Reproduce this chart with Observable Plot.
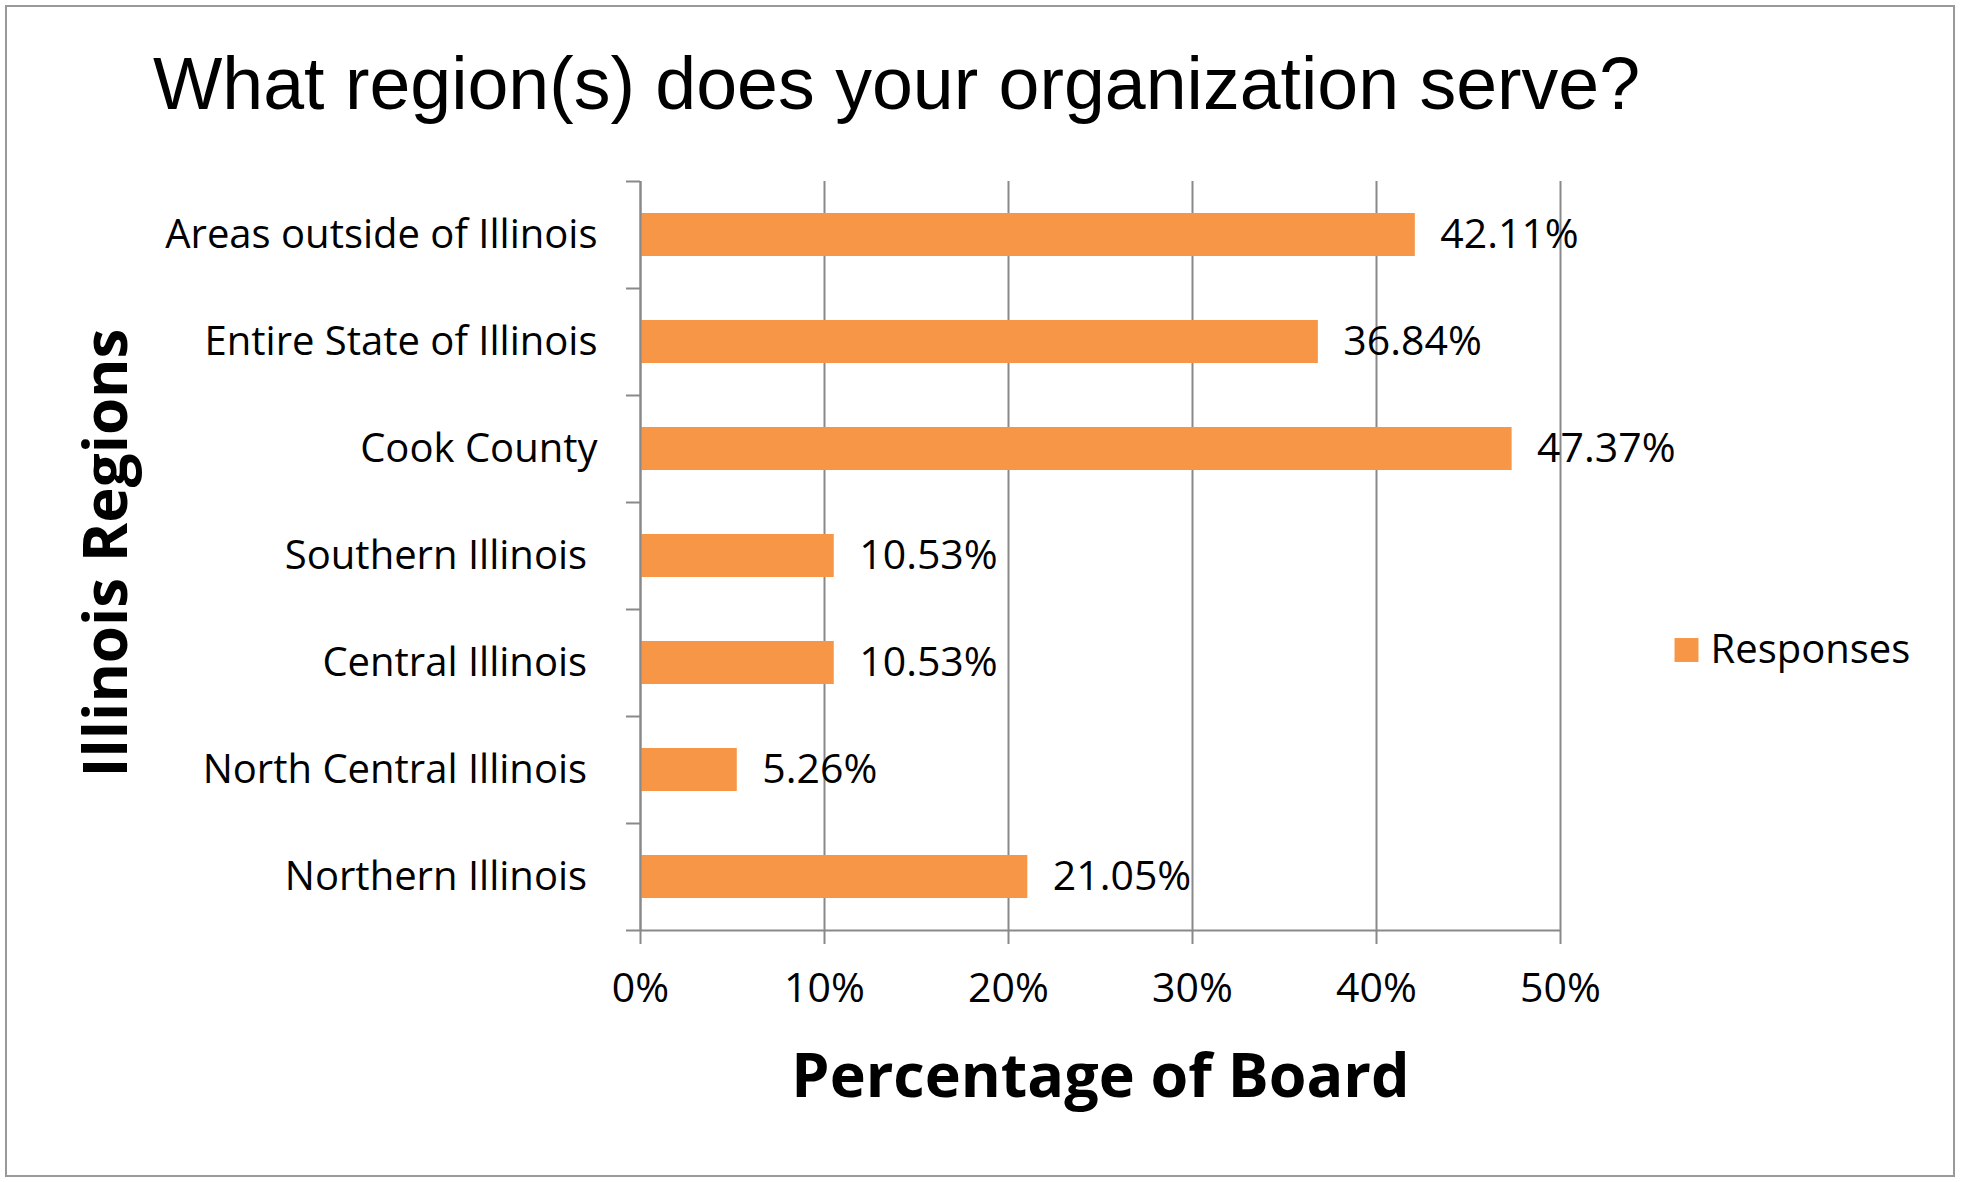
<!DOCTYPE html>
<html>
<head>
<meta charset="utf-8">
<script src="https://cdn.jsdelivr.net/npm/d3@7"></script>
<script src="https://cdn.jsdelivr.net/npm/@observablehq/plot@0.6"></script>
<style>
  html, body { margin: 0; padding: 0; background: #fff; }
  #wrap { position: relative; width: 1961px; height: 1182px; }
  #border { position: absolute; left: 5px; top: 5px; width: 1946px; height: 1168px; border: 2px solid #999; pointer-events: none; }
</style>
</head>
<body>
<div id="wrap"><div id="border"></div></div>
<script>
const titleText = "What region(s) does your organization serve?";
const xTitle = "Percentage of Board";
const yTitle = "Illinois Regions";
const legendLabel = "Responses";
const categories = [
  "Areas outside of Illinois",
  "Entire State of Illinois",
  "Cook County",
  "Southern Illinois\u00a0",
  "Central Illinois\u00a0",
  "North Central Illinois\u00a0",
  "Northern Illinois\u00a0"
];
const responses = [42.11, 36.84, 47.37, 10.53, 10.53, 5.26, 21.05];
const xTicks = [0, 10, 20, 30, 40, 50];
const xTickLabels = ["0%", "10%", "20%", "30%", "40%", "50%"];

const barColor = "#F79646";
const gray = "#898989";
const data = categories.map((c, i) => ({category: c, value: responses[i]}));

const W = 1961, H = 1182;
const mL = 640, mR = 401, mT = 181, mB = 252;
const halfStep = (H - mT - mB) / categories.length / 2;

const chart = Plot.plot({
  width: W,
  height: H,
  marginLeft: mL,
  marginRight: mR,
  marginTop: mT,
  marginBottom: mB,
  style: {fontFamily: "'Open Sans', sans-serif", fontSize: "40px", color: "#000", background: "transparent", overflow: "visible"},
  x: {domain: [xTicks[0], xTicks[xTicks.length - 1]]},
  y: {domain: categories, paddingInner: 0.6, paddingOuter: 0.3},
  marks: [
    Plot.gridX(xTicks, {stroke: gray, strokeOpacity: 1, strokeWidth: 2}),
    Plot.barX(data, {x: "value", y: "category", fill: barColor}),
    Plot.ruleX([xTicks[0]], {stroke: gray, strokeWidth: 2}),
    Plot.ruleY([categories[categories.length - 1]], {x1: xTicks[0], x2: xTicks[xTicks.length - 1], dy: halfStep, stroke: gray, strokeWidth: 2}),
    // boundary ticks on the category axis
    Plot.axisY({anchor: "left", tickSize: 14, dy: -halfStep, tickFormat: () => "", stroke: gray, strokeWidth: 2, label: null}),
    Plot.axisY([categories[categories.length - 1]], {anchor: "left", tickSize: 14, dy: halfStep, tickFormat: () => "", stroke: gray, strokeWidth: 2, label: null}),
    // category labels
    Plot.axisY({anchor: "left", tickSize: 0, tickPadding: 43, fontSize: 40, label: null}),
    // x axis
    Plot.axisX(xTicks, {anchor: "bottom", tickSize: 14, tickPadding: 28, stroke: gray, strokeWidth: 2, fontSize: 41,
      tickFormat: d => xTickLabels[xTicks.indexOf(d)], label: null}),
    // value labels
    Plot.text(data, {x: "value", y: "category", text: d => d.value.toFixed(2) + "%", textAnchor: "start", dx: 25, fontSize: 41, fill: "#000"}),
    // title
    Plot.text([titleText], {frameAnchor: "top", textAnchor: "middle", lineAnchor: "middle", dx: -204, dy: -96, fontSize: 73.5, fontFamily: "'Liberation Sans', Arial, sans-serif", fill: "#000"}),
    // axis titles
    Plot.text([xTitle], {frameAnchor: "bottom", textAnchor: "middle", lineAnchor: "middle", dy: 147, fontSize: 61, fontWeight: "bold", fill: "#000"}),
    Plot.text([yTitle], {frameAnchor: "left", textAnchor: "middle", lineAnchor: "middle", dx: -533, dy: -3, rotate: -90, fontSize: 60, fontWeight: "bold", fill: "#000"}),
    // legend
    Plot.dot([legendLabel], {frameAnchor: "right", dx: 126, dy: 94, symbol: "square", r: 13.5, fill: barColor, stroke: null}),
    Plot.text([legendLabel], {frameAnchor: "right", dx: 150, dy: 94, textAnchor: "start", lineAnchor: "middle", fontSize: 40, fill: "#000"})
  ]
});
document.getElementById("wrap").appendChild(chart);
</script>
</body>
</html>
